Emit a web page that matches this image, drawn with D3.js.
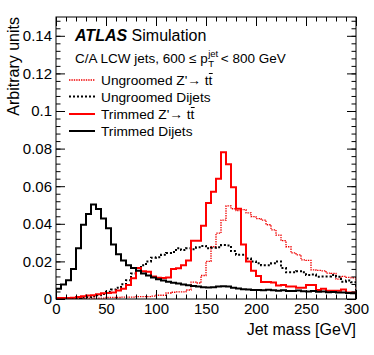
<!DOCTYPE html>
<html><head><meta charset="utf-8">
<script src="https://cdn.jsdelivr.net/npm/d3@7"></script>
<style>
body{margin:0;background:#fff;}
text{font-family:"Liberation Sans",Arial,Helvetica,sans-serif;}
</style></head>
<body>
<svg id="c" width="374" height="355"></svg>
<script>
// ---- data ----
const binWidth = 5; // GeV
const xTicks = [0,50,100,150,200,250,300];
const yTicks = [0,0.02,0.04,0.06,0.08,0.1,0.12,0.14];
const yTickLabels = ["0","0.02","0.04","0.06","0.08","0.1","0.12","0.14"];

const trimmedDijets = [0.0055,0.0077,0.0100,0.0160,0.0270,0.0395,0.0452,0.0502,0.0479,0.0428,0.0376,0.0290,0.0238,0.0205,0.0180,0.0165,0.0150,0.0135,0.0125,0.0115,
0.0105,0.0098,0.0092,0.0087,0.0082,0.0077,0.0073,0.0069,0.0066,0.0063,0.0061,0.0062,0.0066,0.0068,0.0066,0.0060,0.0056,0.0052,0.0050,0.0048,
0.0048,0.0046,0.0049,0.0047,0.0044,0.0046,0.0043,0.0042,0.0045,0.0041,0.0040,0.0042,0.0038,0.0040,0.0036,0.0037,0.0034,0.0035,0.0032,0.0030];

const trimmedZtt = [0.0005,0.0005,0.0005,0.0007,0.0010,0.0015,0.0018,0.0020,0.0025,0.0030,0.0032,0.0035,0.0045,0.0055,0.0075,0.0110,0.0165,0.0148,0.0145,0.0120,
0.0113,0.0112,0.0115,0.0160,0.0163,0.0180,0.0205,0.0310,0.0310,0.0390,0.0510,0.0570,0.0640,0.0780,0.0717,0.0595,0.0480,0.0290,0.0200,0.0150,
0.0122,0.0090,0.0090,0.0088,0.0072,0.0074,0.0066,0.0066,0.0060,0.0060,0.0074,0.0074,0.0048,0.0055,0.0044,0.0044,0.0044,0.0050,0.0034,0.0034];

const ungroomedZtt = [0.0003,0.0003,0.0003,0.0003,0.0003,0.0003,0.0005,0.0005,0.0005,0.0005,0.0008,0.0008,0.0008,0.0010,0.0010,0.0010,0.0013,0.0013,0.0013,0.0015,
0.0020,0.0020,0.0032,0.0036,0.0038,0.0038,0.0048,0.0090,0.0085,0.0125,0.0200,0.0278,0.0350,0.0420,0.0495,0.0480,0.0470,0.0475,0.0458,0.0438,
0.0428,0.0420,0.0395,0.0368,0.0340,0.0310,0.0278,0.0245,0.0235,0.0208,0.0205,0.0155,0.0152,0.0150,0.0138,0.0136,0.0106,0.0120,0.0115,0.0113];

const ungroomedDijets = [0.0003,0.0003,0.0003,0.0003,0.0005,0.0008,0.0010,0.0015,0.0020,0.0027,0.0038,0.0050,0.0060,0.0078,0.0100,0.0135,0.0165,0.0180,0.0200,0.0220,
0.0222,0.0235,0.0245,0.0250,0.0270,0.0260,0.0270,0.0265,0.0275,0.0282,0.0270,0.0272,0.0275,0.0287,0.0285,0.0255,0.0235,0.0235,0.0216,0.0200,
0.0190,0.0180,0.0180,0.0190,0.0200,0.0165,0.0142,0.0142,0.0148,0.0142,0.0128,0.0130,0.0119,0.0120,0.0120,0.0128,0.0119,0.0092,0.0098,0.0089];

const seriesNames = ["Ungroomed Z'\u2192 t", "Ungroomed Dijets", "Trimmed Z'\u2192 t", "Trimmed Dijets"];

// ---- layout ----
const svg = d3.select("#c");
const L=56, R=356, T=17, B=299;
const x = d3.scaleLinear().domain([0,300]).range([L,R]);
const y = d3.scaleLinear().domain([0,0.15]).range([B,T]);

svg.append("defs").append("clipPath").attr("id","clip")
  .append("rect").attr("x",L).attr("y",T).attr("width",R-L).attr("height",B-T);

const styles = [
  {data:ungroomedZtt, stroke:"#f00000", width:1.3, dash:"1.4,1"},
  {data:ungroomedDijets, stroke:"#000", width:2, dash:"2,2"},
  {data:trimmedZtt, stroke:"#ff0000", width:2, dash:null},
  {data:trimmedDijets, stroke:"#000", width:2, dash:null}
];

const line = d3.line().x(d=>x(d[0])).y(d=>y(d[1])).curve(d3.curveStepAfter);
const g = svg.append("g").attr("clip-path","url(#clip)");
styles.forEach(s=>{
  const pts = [[0,0]].concat(s.data.map((v,i)=>[i*binWidth,v]));
  pts.push([s.data.length*binWidth, s.data[s.data.length-1]]);
  pts.push([s.data.length*binWidth, 0]);
  g.append("path").attr("d",line(pts)).attr("fill","none")
   .attr("stroke",s.stroke).attr("stroke-width",s.width)
   .attr("stroke-dasharray",s.dash).attr("stroke-linejoin","miter");
});

// ---- axes (ROOT style, ticks inside) ----
const minorX = d3.range(0,301,10);
const minorY = d3.range(0,0.1501,0.004);
function styleAxis(sel){ sel.select(".domain").remove(); sel.selectAll("line").attr("stroke","#000"); sel.selectAll("text").attr("font-size",15).attr("fill","#000"); }

svg.append("g").attr("transform",`translate(0,${B})`)
  .call(d3.axisBottom(x).tickValues(minorX).tickSize(-4.5).tickFormat("")).call(styleAxis);
svg.append("g").attr("transform",`translate(0,${B})`)
  .call(d3.axisBottom(x).tickValues(xTicks).tickSize(-9).tickPadding(4).tickFormat(d3.format("d"))).call(styleAxis);
svg.append("g").attr("transform",`translate(0,${T})`)
  .call(d3.axisTop(x).tickValues(minorX).tickSize(-4.5).tickFormat("")).call(styleAxis);
svg.append("g").attr("transform",`translate(0,${T})`)
  .call(d3.axisTop(x).tickValues(xTicks).tickSize(-9).tickFormat("")).call(styleAxis);

svg.append("g").attr("transform",`translate(${L},0)`)
  .call(d3.axisLeft(y).tickValues(minorY).tickSize(-4.5).tickFormat("")).call(styleAxis);
svg.append("g").attr("transform",`translate(${L},0)`)
  .call(d3.axisLeft(y).tickValues(yTicks).tickSize(-9).tickPadding(4).tickFormat((d,i)=>yTickLabels[i])).call(styleAxis);
svg.append("g").attr("transform",`translate(${R},0)`)
  .call(d3.axisRight(y).tickValues(minorY).tickSize(-4.5).tickFormat("")).call(styleAxis);
svg.append("g").attr("transform",`translate(${R},0)`)
  .call(d3.axisRight(y).tickValues(yTicks).tickSize(-9).tickFormat("")).call(styleAxis);

svg.append("rect").attr("x",L).attr("y",T).attr("width",R-L).attr("height",B-T)
  .attr("fill","none").attr("stroke","#000").attr("stroke-width",1);

// titles
svg.append("text").attr("x",R).attr("y",335).attr("text-anchor","end").attr("font-size",16).text("Jet mass [GeV]");
svg.append("text").attr("transform","translate(19,17) rotate(-90)").attr("text-anchor","end").attr("font-size",16).text("Arbitrary units");

// ATLAS label
const at = svg.append("text").attr("x",75).attr("y",41).attr("font-size",16);
at.append("tspan").attr("font-weight","bold").attr("font-style","italic").text("ATLAS");
at.append("tspan").text(" Simulation");

// subtitle with p_T^jet
const s1 = svg.append("text").attr("x",75).attr("y",63).attr("font-size",13.5).text("C/A LCW jets, 600 \u2264 p");
const w1 = s1.node().getComputedTextLength();
const sup = svg.append("text").attr("x",75+w1+0.5).attr("y",57).attr("font-size",9.5).text("jet");
svg.append("text").attr("x",75+w1+0.5).attr("y",67).attr("font-size",9.5).text("T");
const w2 = sup.node().getComputedTextLength();
svg.append("text").attr("x",75+w1+3+w2).attr("y",63).attr("font-size",13.5).text(" < 800 GeV");

// legend
const legY = [80, 96.5, 114, 131];
styles.forEach((s,i)=>{
  svg.append("line").attr("x1",69).attr("x2",95).attr("y1",legY[i]).attr("y2",legY[i])
    .attr("stroke",s.stroke).attr("stroke-width",s.width).attr("stroke-dasharray",s.dash);
  const t = svg.append("text").attr("x",101).attr("y",legY[i]+5).attr("font-size",13.7).text(seriesNames[i]);
  if(i===0||i===2){
    const w = t.node().getComputedTextLength();
    const tb = svg.append("text").attr("x",101+w).attr("y",legY[i]+5).attr("font-size",13.7).text("t");
    const wt = tb.node().getComputedTextLength();
    svg.append("line").attr("x1",101+w+0.3).attr("x2",101+w+wt+0.3)
      .attr("y1",legY[i]-6.5).attr("y2",legY[i]-6.5).attr("stroke","#000").attr("stroke-width",1);
  }
});
</script>
</body></html>
